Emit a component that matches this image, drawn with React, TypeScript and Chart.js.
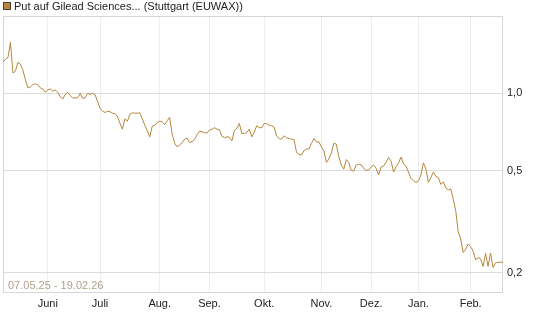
import React, { useEffect, useRef } from "react";
import { Chart, registerables } from "chart.js";

Chart.register(...registerables);

const seriesLabel = "Put auf Gilead Sciences... (Stuttgart (EUWAX))";
const rangeLabel = "07.05.25 - 19.02.26";
const monthLabels = ["Juni", "Juli", "Aug.", "Sep.", "Okt.", "Nov.", "Dez.", "Jan.", "Feb."];
const monthStartIndex = [18, 39, 63, 83, 105, 128, 148, 167, 188];
const yTickValues = [0.2, 0.5, 1.0];

const prices = [
  1.32, 1.36, 1.38, 1.58, 1.2, 1.22, 1.32, 1.3, 1.23, 1.13,
  1.05, 1.06, 1.08, 1.09, 1.08, 1.05, 1.04, 1.01, 1.03, 1.04,
  1.02, 1.03, 1.01, 0.97, 0.95, 0.99, 1.01, 0.98, 0.96, 0.96,
  0.96, 1.0, 0.956, 0.96, 1.0, 0.99, 1.0, 0.99, 0.93, 0.875,
  0.852, 0.842, 0.852, 0.848, 0.837, 0.832, 0.814, 0.765, 0.725, 0.796,
  0.779, 0.829, 0.84, 0.837, 0.837, 0.84, 0.796, 0.751, 0.716, 0.677,
  0.745, 0.751, 0.77, 0.779, 0.775, 0.755, 0.782, 0.807, 0.694, 0.64,
  0.619, 0.629, 0.642, 0.663, 0.669, 0.643, 0.649, 0.66, 0.69, 0.712,
  0.709, 0.703, 0.7, 0.719, 0.725, 0.735, 0.725, 0.722, 0.681, 0.672,
  0.677, 0.675, 0.652, 0.716, 0.732, 0.763, 0.698, 0.698, 0.703, 0.725,
  0.677, 0.706, 0.748, 0.735, 0.735, 0.763, 0.762, 0.751, 0.747, 0.738,
  0.681, 0.667, 0.663, 0.683, 0.671, 0.667, 0.663, 0.66, 0.588, 0.579,
  0.575, 0.599, 0.607, 0.607, 0.638, 0.667, 0.647, 0.647, 0.619, 0.596,
  0.538, 0.555, 0.585, 0.64, 0.634, 0.567, 0.526, 0.507, 0.552, 0.538,
  0.501, 0.498, 0.526, 0.53, 0.528, 0.51, 0.501, 0.503, 0.517, 0.526,
  0.51, 0.481, 0.517, 0.521, 0.54, 0.562, 0.545, 0.494, 0.517, 0.536,
  0.565, 0.533, 0.519, 0.494, 0.466, 0.457, 0.45, 0.456, 0.481, 0.536,
  0.507, 0.45, 0.47, 0.494, 0.475, 0.47, 0.442, 0.452, 0.428, 0.421,
  0.425, 0.387, 0.349, 0.289, 0.271, 0.24, 0.247, 0.259, 0.253, 0.243,
  0.225, 0.229, 0.227, 0.212, 0.238, 0.212, 0.239, 0.21, 0.219, 0.22,
  0.22, 0.22,
];

const LINE_COLOR = "rgb(181,134,60)";
const FONT_FAMILY = "'Liberation Sans', Arial, sans-serif";

const framePlugin = {
  id: "framePlugin",
  beforeDatasetsDraw(chart: any) {
    const { ctx, chartArea } = chart;
    ctx.save();
    ctx.strokeStyle = "#d6d6d6";
    ctx.lineWidth = 1;
    ctx.strokeRect(
      Math.round(chartArea.left) + 0.5,
      Math.round(chartArea.top) + 0.5,
      Math.round(chartArea.right - chartArea.left) - 1,
      Math.round(chartArea.bottom - chartArea.top) - 1
    );
    ctx.font = "11px " + FONT_FAMILY;
    ctx.fillStyle = "rgb(176,160,140)";
    ctx.textBaseline = "middle";
    ctx.textAlign = "left";
    ctx.fillText(rangeLabel, chartArea.left + 5, chartArea.bottom - 7);
    ctx.restore();
  },
  afterDraw(chart: any) {
    const { ctx } = chart;
    ctx.save();
    ctx.fillStyle = LINE_COLOR;
    ctx.fillRect(3, 2, 8, 8);
    ctx.strokeStyle = "#4a4038";
    ctx.lineWidth = 1;
    ctx.strokeRect(3.5, 2.5, 7, 7);
    ctx.font = "11px " + FONT_FAMILY;
    ctx.fillStyle = "#222";
    ctx.textBaseline = "middle";
    ctx.textAlign = "left";
    ctx.fillText(seriesLabel, 14, 6.5);
    ctx.restore();
  },
};

export default function App() {
  const ref = useRef<HTMLCanvasElement>(null);
  useEffect(() => {
    const points = prices.map((v, i) => ({ x: i, y: v }));
    const chart = new Chart(ref.current as HTMLCanvasElement, {
      type: "line",
      data: {
        datasets: [
          {
            data: points,
            borderColor: LINE_COLOR,
            borderWidth: 1,
            pointRadius: 0,
            tension: 0,
            fill: false,
          },
        ],
      },
      options: {
        animation: false,
        responsive: false,
        devicePixelRatio: 1,
        layout: { padding: { left: 3, top: 16, right: 0, bottom: 0 } },
        plugins: { legend: { display: false }, tooltip: { enabled: false } },
        scales: {
          x: {
            type: "linear",
            min: 0,
            max: prices.length - 1,
            afterBuildTicks: (s: any) => {
              s.ticks = monthStartIndex.map((v) => ({ value: v }));
            },
            afterFit: (s: any) => {
              s.height = 34;
            },
            ticks: {
              autoSkip: false,
              maxRotation: 0,
              padding: 4,
              color: "#222",
              font: { family: FONT_FAMILY, size: 11 },
              callback: (v: any) => {
                const k = monthStartIndex.indexOf(Number(v));
                return k >= 0 ? monthLabels[k] : "";
              },
            },
            grid: { color: "#eeeeee", drawTicks: false },
            border: { display: false },
          },
          y: {
            type: "logarithmic",
            position: "right",
            min: 0.167,
            max: 2.0,
            afterBuildTicks: (s: any) => {
              s.ticks = yTickValues.map((v) => ({ value: v }));
            },
            afterFit: (s: any) => {
              s.width = 42;
            },
            ticks: {
              padding: 4,
              color: "#222",
              font: { family: FONT_FAMILY, size: 11 },
              callback: (v: any) => Number(v).toFixed(1).replace(".", ","),
            },
            grid: { color: "#dcdcdc", drawTicks: false },
            border: { display: false },
          },
        },
      },
      plugins: [framePlugin],
    });
    return () => chart.destroy();
  }, []);
  return (
    <div style={{ position: "absolute", left: 0, top: 0, width: 545, height: 327 }}>
      <canvas ref={ref} width={545} height={327} style={{ display: "block" }} />
    </div>
  );
}
